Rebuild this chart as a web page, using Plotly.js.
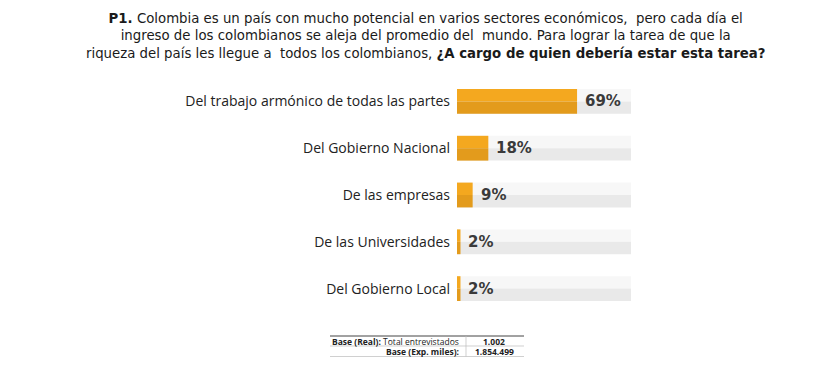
<!DOCTYPE html>
<html><head><meta charset="utf-8">
<script src="https://cdn.plot.ly/plotly-3.0.1.min.js"></script>
<style>body{margin:0;background:#fff}#c{width:834px;height:372px}</style>
</head><body><div id="c"></div>
<script>
const categories = ["Del trabajo armónico de todas las partes","Del Gobierno Nacional","De las empresas","De las Universidades","Del Gobierno Local"];
const values = [69, 18, 9, 2, 2];
const valueLabels = ["69%","18%","9%","2%","2%"];
const trackValues = [100, 100, 100, 100, 100];
const titleLines = [
  '<b>P1.</b> Colombia es un país con mucho potencial en varios sectores económicos,  pero cada día el',
  'ingreso de los colombianos se aleja del promedio del  mundo. Para lograr la tarea de que la',
  'riqueza del país les llegue a  todos los colombianos, <b>¿A cargo de quien debería estar esta tarea?</b>'
];
const baseRows = ["Base (Real): Total entrevistados", "Base (Exp. miles):"];
const baseValues = ["1.002", "1.854.499"];

const W = 834, H = 372, L = 457, R = 631, T = 78, B = 312;
const px = x => (x - L) / (R - L);
const py = y => (B - y) / (B - T);

const bw = 0.265;
const traces = [
  {type:'bar', orientation:'h', y:categories, x:trackValues, width:bw, offset:-bw, marker:{color:'#f7f7f7'}, hoverinfo:'skip'},
  {type:'bar', orientation:'h', y:categories, x:trackValues, width:bw, offset:0, marker:{color:'#e9e9e9'}, hoverinfo:'skip'},
  {type:'bar', orientation:'h', y:categories, x:values, width:bw, offset:-bw, marker:{color:'#f4a81f'}, hoverinfo:'skip'},
  {type:'bar', orientation:'h', y:categories, x:values, width:bw, offset:0, marker:{color:'#e39b1c'}, hoverinfo:'skip'}
];

const annotations = categories.map((c,i)=>({
  x: values[i], y: c, xref:'x', yref:'y', text: valueLabels[i], showarrow:false,
  xanchor:'left', yanchor:'middle', xshift:6, font:{family:'DejaVu Sans, sans-serif', size:15, color:'#3a3a3a', weight:'bold'}
}));
annotations.push({xref:'paper', yref:'paper', x:px(425), y:py(36), xanchor:'center', yanchor:'middle',
  showarrow:false, text:titleLines.join('<br>'), font:{family:'DejaVu Sans, sans-serif', size:13.3, color:'#1a1a1a'}});
const tf = {family:'Open Sans, sans-serif', size:8.5, color:'#222'};
annotations.push({xref:'paper', yref:'paper', x:px(461), y:py(341), xanchor:'right', yanchor:'middle', showarrow:false,
  text:'<b>'+baseRows[0].split(':')[0]+':</b>'+baseRows[0].split(':')[1], font:tf});
annotations.push({xref:'paper', yref:'paper', x:px(461), y:py(351), xanchor:'right', yanchor:'middle', showarrow:false,
  text:'<b>'+baseRows[1]+'</b>', font:tf});
annotations.push({xref:'paper', yref:'paper', x:px(494), y:py(341), xanchor:'center', yanchor:'middle', showarrow:false,
  text:'<b>'+baseValues[0]+'</b>', font:tf});
annotations.push({xref:'paper', yref:'paper', x:px(494), y:py(351), xanchor:'center', yanchor:'middle', showarrow:false,
  text:'<b>'+baseValues[1]+'</b>', font:tf});

const shapes = [
  {type:'line', xref:'paper', yref:'paper', x0:px(330), x1:px(524), y0:py(336), y1:py(336), line:{color:'#444', width:1}},
  {type:'line', xref:'paper', yref:'paper', x0:px(330), x1:px(524), y0:py(346), y1:py(346), line:{color:'#bbb', width:0.7}},
  {type:'line', xref:'paper', yref:'paper', x0:px(330), x1:px(524), y0:py(356.5), y1:py(356.5), line:{color:'#bbb', width:0.7}},
  {type:'line', xref:'paper', yref:'paper', x0:px(466), x1:px(466), y0:py(336), y1:py(356.5), line:{color:'#bbb', width:0.7}}
];

const layout = {
  width:W, height:H, margin:{l:L, r:W-R, t:T, b:H-B}, paper_bgcolor:'#fff', plot_bgcolor:'#fff',
  barmode:'overlay', showlegend:false,
  xaxis:{range:[0,100], visible:false, fixedrange:true},
  yaxis:{type:'category', autorange:'reversed', showgrid:false, zeroline:false, showline:false, ticks:'', ticklabelstandoff:6,
    tickfont:{family:'Open Sans, sans-serif', size:14, color:'#222'}},
  annotations, shapes
};
Plotly.newPlot('c', traces, layout, {staticPlot:true, displayModeBar:false});
</script></body></html>
